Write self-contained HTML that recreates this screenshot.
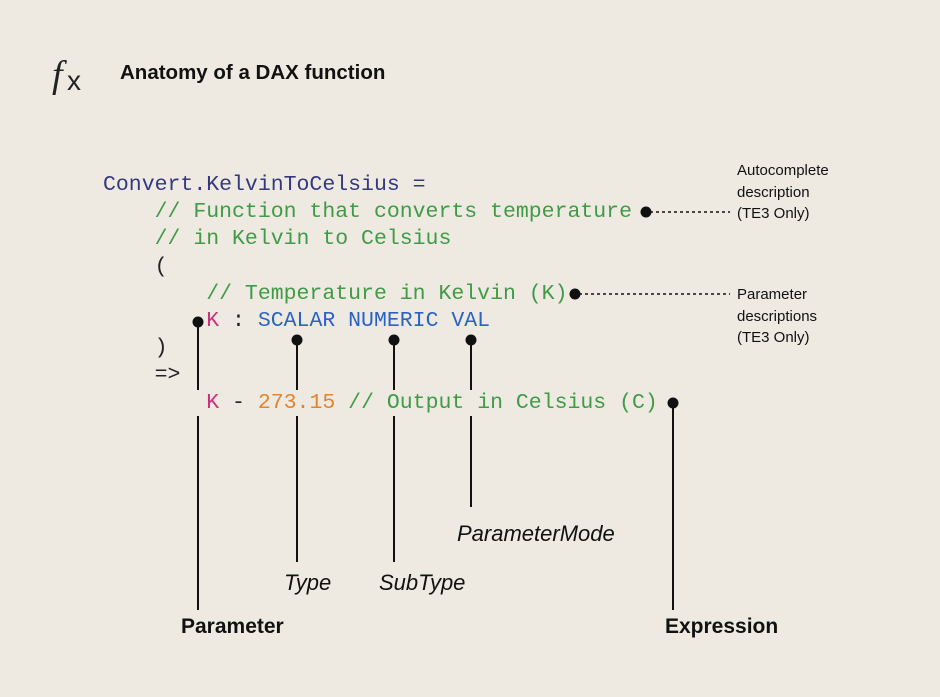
<!DOCTYPE html>
<html><head><style>
body{margin:0;width:940px;height:697px;background:#eeeae2;position:relative;overflow:hidden;font-family:"Liberation Sans",sans-serif}
.c{position:absolute;font-family:"Liberation Mono",monospace;font-size:21.5px;line-height:27.2px;white-space:pre;color:#222}
.n{color:#33387f}.g{color:#3f9b45}.b{color:#2a63c4}.p{color:#cc2f7c}.o{color:#e5832a}
.t{position:absolute;white-space:nowrap;color:#111}
</style></head><body>
<svg width="940" height="697" style="position:absolute;left:0;top:0">
<text x="52" y="87" font-family="Liberation Serif,serif" font-style="italic" font-size="38" fill="#222">f</text>
<text x="67" y="90" font-family="Liberation Sans,sans-serif" font-size="28" fill="#222">x</text>
<g stroke="#111" stroke-width="2" fill="#111">
<line x1="198" y1="322" x2="198" y2="390"/><line x1="198" y1="416" x2="198" y2="610"/><circle cx="198" cy="322" r="4.5"/>
<line x1="297" y1="340" x2="297" y2="390"/><line x1="297" y1="416" x2="297" y2="562"/><circle cx="297" cy="340" r="4.5"/>
<line x1="394" y1="340" x2="394" y2="390"/><line x1="394" y1="416" x2="394" y2="562"/><circle cx="394" cy="340" r="4.5"/>
<line x1="471" y1="340" x2="471" y2="390"/><line x1="471" y1="416" x2="471" y2="507"/><circle cx="471" cy="340" r="4.5"/>
<line x1="673" y1="403" x2="673" y2="610"/><circle cx="673" cy="403" r="4.5"/>
<circle cx="646" cy="212" r="4.5"/><circle cx="575" cy="294" r="4.5"/>
</g>
<g stroke="#111" stroke-width="1.5" stroke-dasharray="3,3">
<line x1="650" y1="212" x2="730" y2="212"/><line x1="579" y1="294" x2="730" y2="294"/>
</g>
</svg>
<div class="t" style="left:120px;top:61px;font-size:20.5px;font-weight:bold">Anatomy of a DAX function</div>
<div class="c" style="left:103px;top:172px"><span class="n">Convert.KelvinToCelsius =</span>
    <span class="g">// Function that converts temperature</span>
    <span class="g">// in Kelvin to Celsius</span>
    (
        <span class="g">// Temperature in Kelvin (K)</span>
        <span class="p">K</span> : <span class="b">SCALAR NUMERIC VAL</span>
    )
    =&gt;
        <span class="p">K</span> - <span class="o">273.15</span> <span class="g">// Output in Celsius (C)</span></div>
<div class="t" style="left:737px;top:160px;font-size:15px;line-height:21.5px">Autocomplete<br>description<br>(TE3 Only)</div>
<div class="t" style="left:737px;top:284px;font-size:15px;line-height:21.5px">Parameter<br>descriptions<br>(TE3 Only)</div>
<div class="t" style="left:457px;top:521px;font-size:22px;font-style:italic">ParameterMode</div>
<div class="t" style="left:284px;top:570px;font-size:22px;font-style:italic">Type</div>
<div class="t" style="left:379px;top:570px;font-size:22px;font-style:italic">SubType</div>
<div class="t" style="left:181px;top:615px;font-size:21px;font-weight:bold">Parameter</div>
<div class="t" style="left:665px;top:615px;font-size:21px;font-weight:bold">Expression</div>
</body></html>
